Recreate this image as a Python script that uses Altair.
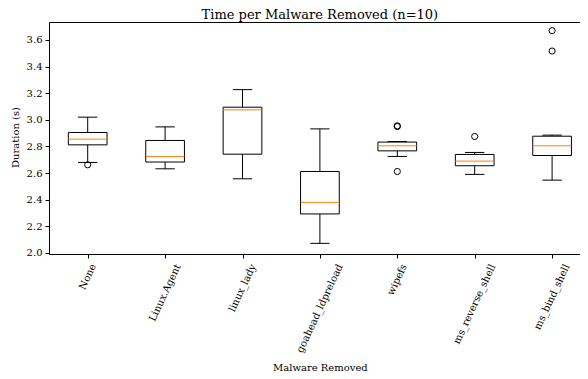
import altair as alt
import pandas as pd

# ---- data ----
names = ["None", "Linux.Agent", "linux_lady", "goahead_ldpreload",
         "wipefs", "ms_reverse_shell", "ms_bind_shell"]
whisker_low = [2.680, 2.632, 2.557, 2.072, 2.725, 2.590, 2.547]
q1 = [2.812, 2.683, 2.742, 2.293, 2.767, 2.655, 2.732]
median = [2.855, 2.725, 3.075, 2.380, 2.805, 2.690, 2.805]
q3 = [2.905, 2.845, 3.095, 2.612, 2.833, 2.740, 2.877]
whisker_high = [3.020, 2.947, 3.227, 2.932, 2.837, 2.755, 2.885]
outlier_group = ["None", "wipefs", "wipefs", "wipefs",
                 "ms_reverse_shell", "ms_bind_shell", "ms_bind_shell"]
outlier_value = [2.662, 2.955, 2.950, 2.612, 2.875, 3.517, 3.670]

title = "Time per Malware Removed (n=10)"
y_ticks = [2.0, 2.2, 2.4, 2.6, 2.8, 3.0, 3.2, 3.4, 3.6]

# ---- layout ----
STEP = 77.4            # px per category in the reference
PPU = 133.1            # px per second in the reference
W, H = 531, 232        # plot runs past the right edge of the window
FULL_W = STEP * len(names)
Y_MIN = 1.992
Y_MAX = Y_MIN + H / PPU
FONT = "DejaVu Serif"
FS = 10

# approximate DejaVu Serif advance widths (em) for label layout
CW = {"a": .596, "b": .640, "c": .560, "d": .640, "e": .592, "f": .370, "g": .640,
      "h": .644, "i": .320, "j": .310, "k": .606, "l": .320, "m": .948, "n": .644,
      "o": .602, "p": .640, "r": .478, "s": .513, "t": .402, "u": .644, "v": .565,
      "w": .856, "x": .564, "y": .565, "_": .5, ".": .318, "N": .80, "L": .66, "A": .72}


def text_len(s):
    return sum(CW.get(c, 0.6) for c in s) * FS


label_y = []
for n in names:
    L = text_len(n)
    off = 9 + (0.906 * L + 0.423 * 9) / 2
    label_y.append(Y_MIN - off / PPU)

pos = list(range(1, len(names) + 1))
df = pd.DataFrame({"name": names, "pos": pos, "wlo": whisker_low, "q1": q1,
                   "med": median, "q3": q3, "whi": whisker_high, "ly": label_y})
df_out = pd.DataFrame({"pos": [names.index(g) + 1 for g in outlier_group],
                       "v": outlier_value})

xs = alt.Scale(domain=[0.5, 0.5 + W / STEP], nice=False, zero=False)
ys = alt.Scale(domain=[Y_MIN, Y_MAX], nice=False, zero=False)

xaxis = alt.Axis(values=pos, labels=False, ticks=True, tickSize=4, tickColor="black",
                 domainColor="black", grid=False, title="Malware Removed",
                 titleFont=FONT, titleFontSize=FS, titleFontWeight="normal",
                 titleColor="black", titleX=FULL_W / 2, titleY=116,
                 titleBaseline="alphabetic", titleAlign="center")
xaxis_top = alt.Axis(orient="top", labels=False, ticks=False, domainColor="black",
                     grid=False, title=None)
yaxis = alt.Axis(values=y_ticks, format=".1f", labelFont=FONT, labelFontSize=FS,
                 labelColor="black", tickSize=4, tickColor="black", labelPadding=3,
                 labelOverlap=False, domainColor="black", grid=False,
                 title="Duration (s)",
                 titleFont=FONT, titleFontSize=FS, titleFontWeight="normal",
                 titleColor="black", titleX=-31, titleY=H / 2 - 1,
                 titleBaseline="alphabetic", titleAlign="center")

base = alt.Chart(df).transform_calculate(
    bl="datum.pos - 0.25", br="datum.pos + 0.25",
    cl="datum.pos - 0.125", cr="datum.pos + 0.125")


def X(f):
    return alt.X(f, scale=xs, axis=None)


def Y(f):
    # the same y axis definition in every layer so the shared axis merges cleanly
    return alt.Y(f, scale=ys, axis=yaxis, title="Duration (s)")


box = base.mark_rect(fill="transparent", stroke="black", strokeWidth=1).encode(
    x=alt.X("bl:Q", scale=xs, axis=xaxis), x2="br:Q", y=Y("q1:Q"), y2="q3:Q")
top_line = base.mark_point(opacity=0).encode(
    x=alt.X("pos:Q", scale=xs, axis=xaxis_top), y=Y("q1:Q"))
wl = base.mark_rule(color="black", strokeWidth=1).encode(
    x=X("pos:Q"), y=Y("wlo:Q"), y2="q1:Q")
wh = base.mark_rule(color="black", strokeWidth=1).encode(
    x=X("pos:Q"), y=Y("q3:Q"), y2="whi:Q")
cap_lo = base.mark_rule(color="black", strokeWidth=1).encode(
    x=X("cl:Q"), x2="cr:Q", y=Y("wlo:Q"))
cap_hi = base.mark_rule(color="black", strokeWidth=1).encode(
    x=X("cl:Q"), x2="cr:Q", y=Y("whi:Q"))
med = base.mark_rule(color="#ff7f0e", strokeWidth=1).encode(
    x=X("bl:Q"), x2="br:Q", y=Y("med:Q"))
out = alt.Chart(df_out).mark_point(shape="circle", filled=False, color="black",
                                   size=38, strokeWidth=1, opacity=1).encode(
    x=X("pos:Q"), y=Y("v:Q"))
labels = base.mark_text(angle=295, align="center", baseline="middle", font=FONT,
                        fontSize=FS, color="black").encode(
    x=X("pos:Q"), y=Y("ly:Q"), text="name:N")

chart = alt.layer(box, top_line, wl, wh, cap_lo, cap_hi, med, out, labels).resolve_axis(
    x="independent", y="shared"
).properties(
    width=W, height=H,
    title=alt.TitleParams(title, font=FONT, fontSize=13, fontWeight="normal",
                          color="black", anchor="middle", frame="group",
                          dx=(FULL_W - W) / 2, offset=5, dy=5),
    autosize=alt.AutoSizeParams(type="none"),
    padding={"left": 41, "top": 14, "right": 0, "bottom": 117},
).configure_view(stroke=None).configure(background="white")

chart.save("out.html", embed_options={"renderer": "svg", "actions": False})
